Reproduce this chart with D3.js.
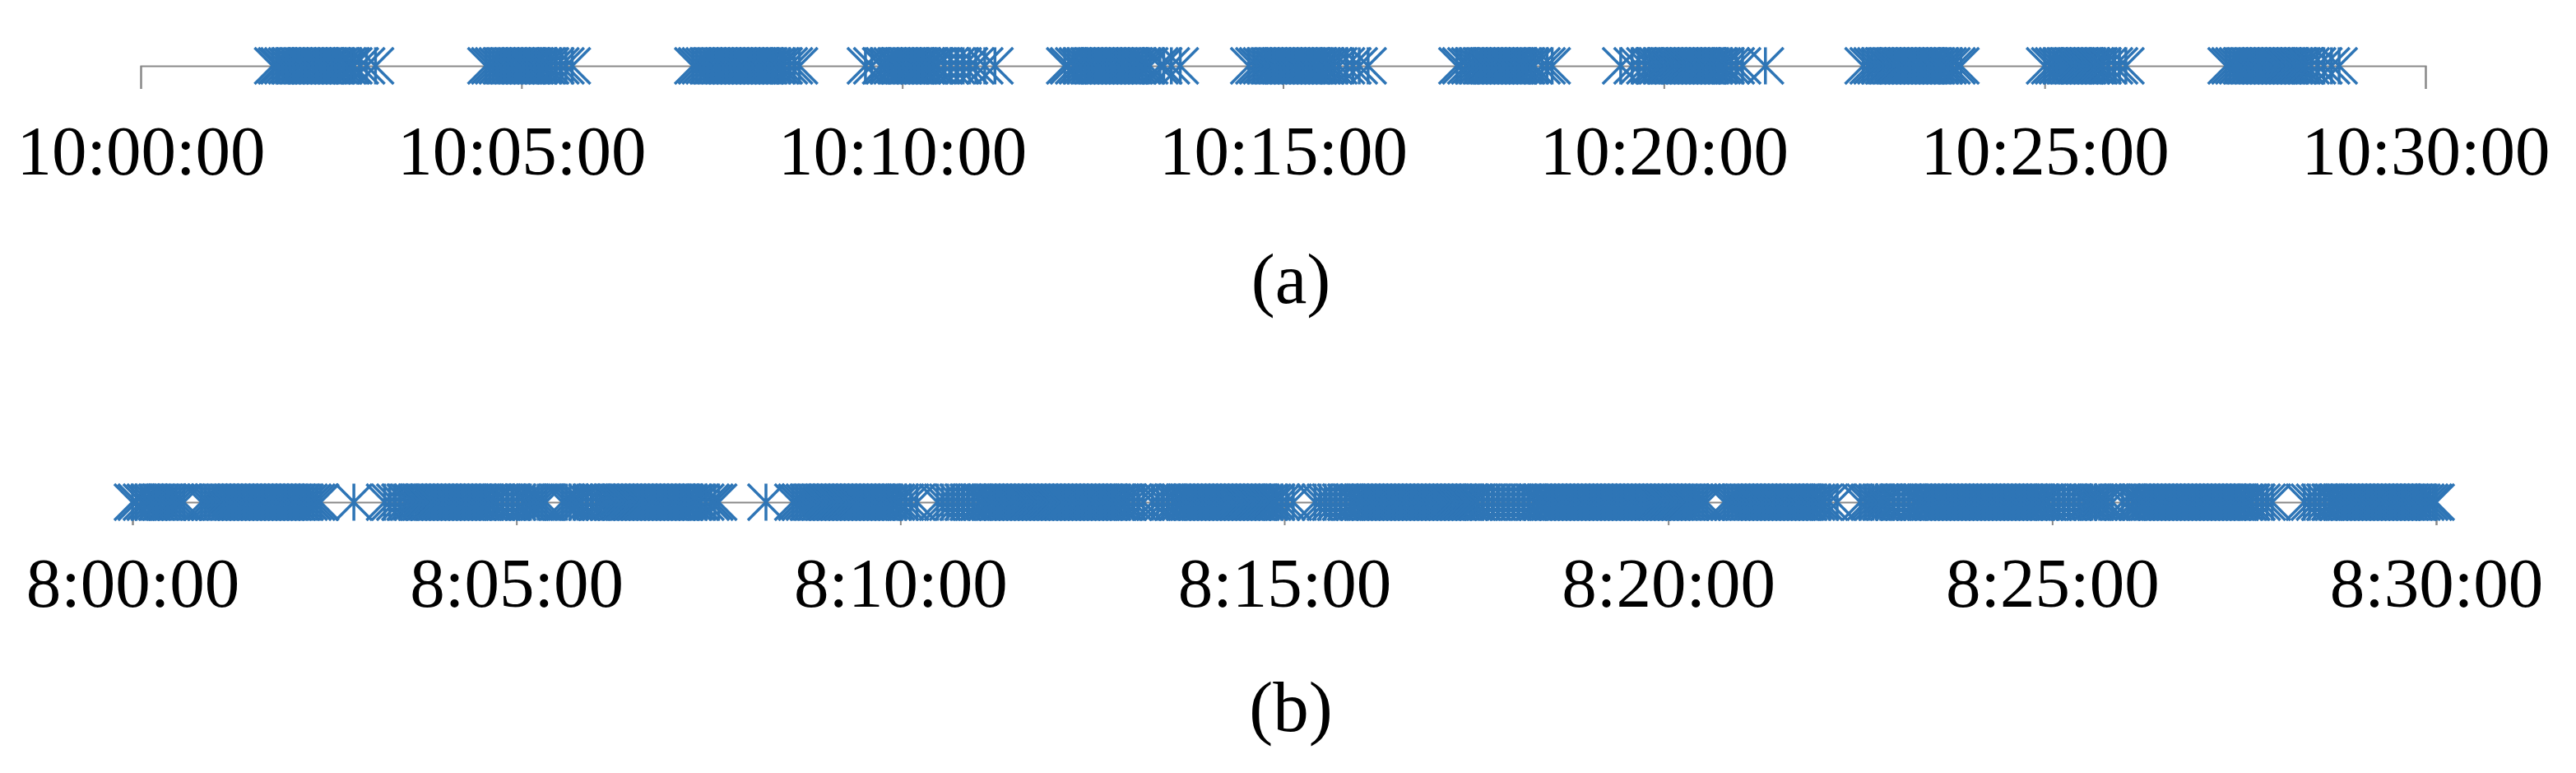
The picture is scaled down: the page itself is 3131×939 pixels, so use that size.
<!DOCTYPE html>
<html><head><meta charset="utf-8">
<script src="https://cdn.jsdelivr.net/npm/d3@7"></script>
<style>html,body{margin:0;padding:0;background:#fff;} svg{display:block}</style>
</head><body>
<svg id="c" width="3131" height="939"></svg>
<script>
// ---- data ----
const startA = "10:00:00";
const startB = "8:00:00";
const tickMinutes = [0, 5, 10, 15, 20, 25, 30];
const captions = ["(a)", "(b)"];
// event times, seconds after the start of each window
const timesA = [
  104,107,109,112,115,118,121,124,127,130,133,136,139,142,145,148,151,154,157,160,163,166,168,173,178,185,
  272,275,278,281,284,287,290,293,296,299,302,305,308,311,314,317,320,323,327,331,335,340,
  435,438,441,444,447,450,453,456,459,462,465,468,471,474,477,480,483,486,489,492,495,498,501,504,507,511,515,519,
  571,576,583,586,589,592,595,598,601,604,607,610,613,616,619,622,625,628,633,638,643,648,653,658,665,673,
  728,731,735,738,741,744,747,750,753,756,759,762,765,768,771,774,777,780,783,786,789,792,795,803,806,812,819,
  873,877,880,883,886,889,892,895,898,901,904,907,910,913,916,919,922,925,928,931,934,937,940,944,950,955,960,967,
  1037,1040,1044,1047,1050,1053,1056,1059,1062,1065,1068,1071,1074,1077,1080,1083,1086,1089,1092,1095,1098,1104,1108,1112,
  1166,1175,1180,1185,1189,1192,1195,1198,1201,1204,1207,1210,1213,1216,1219,1222,1225,1228,1231,1234,1237,1240,1243,1246,1249,1253,1257,1262,1280,
  1357,1361,1364,1367,1370,1373,1376,1379,1382,1385,1388,1391,1394,1397,1400,1403,1406,1409,1412,1415,1418,1421,1424,1427,1431,1434,
  1500,1504,1507,1510,1513,1516,1519,1522,1525,1528,1531,1534,1537,1540,1543,1546,1550,1555,1559,1564,
  1643,1646,1649,1652,1655,1658,1661,1664,1667,1670,1673,1676,1679,1682,1685,1688,1691,1694,1697,1700,1703,1706,1710,1715,1720,1726,1732
];
const timesB = [
  0,3,7,10,13,16,19,22,25,28,31,34,37,40,
  54,57,60,63,66,69,72,75,78,81,84,87,90,93,96,99,102,105,108,111,114,117,120,123,126,129,132,135,138,141,144,147,
  173,197,201,205,209,213,
  216,219,222,225,228,231,234,237,240,243,246,249,252,255,258,261,264,267,270,273,276,279,282,285,289,293,297,301,305,308,311,314,317,320,323,
  336,339,342,345,348,351,355,359,363,366,369,372,375,378,381,384,387,390,393,396,399,402,405,408,411,414,417,420,423,426,429,432,435,438,441,444,448,452,455,458,
  495,
  516,519,522,525,528,531,534,537,540,543,546,549,552,555,558,561,564,567,570,573,576,579,582,585,588,591,594,597,600,604,608,613,
  629,633,637,641,645,649,653,657,661,664,
  667,670,673,676,679,682,685,688,691,694,697,700,703,706,709,712,715,718,721,724,727,730,733,736,739,742,745,748,751,754,757,760,763,766,769,772,775,778,782,786,790,797,801,805,809,813,
  816,819,822,825,828,831,834,837,840,843,846,849,852,855,858,861,864,867,870,873,876,879,882,885,888,891,894,898,902,907,
  924,928,932,936,940,944,948,952,955,
  958,961,964,967,970,973,976,979,982,985,988,991,994,997,1000,1003,1006,1009,1012,1015,1018,1021,1024,1027,1030,1033,1036,1039,1042,1045,1048,1051,
  1055,1059,1063,1067,1071,1075,1079,1083,1087,1091,1095,1098,1101,1104,1107,1110,1113,1116,1119,1122,1125,1128,1131,1134,1137,1140,1143,1146,1149,1152,1155,1158,1161,1164,1167,1170,1173,1176,1179,1182,1185,1188,1191,1194,1197,1200,1203,1206,1209,1212,1215,1218,1221,1224,1227,1230,
  1244,1247,1250,1253,1256,1259,1262,1265,1268,1271,1274,1277,1280,1283,1286,1289,1292,1295,1298,1301,1304,1307,1310,1313,1316,1319,1322,1326,1332,
  1350,1354,1357,1360,1363,1366,1369,1372,1376,1380,1384,1388,1392,1395,1398,1401,1404,1407,1410,1413,1416,1419,1422,1425,1428,1431,1434,1437,1440,1443,1446,1449,1452,1455,1458,1461,1464,1467,1470,1473,1476,1479,1482,1485,1488,1491,1494,1497,1501,1505,1509,1513,1517,1521,1525,1528,1531,1534,1537,1540,1543,1547,1555,1559,1563,
  1566,1569,1572,1575,1578,1581,1584,1587,1590,1593,1596,1599,1602,1605,1608,1611,1614,1617,1620,1623,1626,1629,1632,1635,1638,1641,1644,1647,1650,1653,1656,1660,1664,1668,1672,
  1697,1701,1705,1709,1713,1717,1720,1723,
  1726,1729,1732,1735,1738,1741,1744,1747,1750,1753,1756,1759,1762,1765,1768,1771,1774,1777,1780,1783,1786,1789,1792,1795,1798,1800
];

// ---- drawing ----
const W = 3131, H = 939;
const svg = d3.select("#c");
svg.append("rect").attr("width", W).attr("height", H).attr("fill", "#fff");
const parse = d3.timeParse("%H:%M:%S");
const FONT = "'Liberation Serif','Times New Roman',serif";
const BLUE = "#2E75B6", GREY = "#898989";
const star = "M-22,-22L22,22M-22,22L22,-22M0,-22.5V22.5";

function panel(cfg) {
  const t0 = parse(cfg.start);
  const t1 = d3.timeMinute.offset(t0, 30);
  const x = d3.scaleTime().domain([t0, t1]).range([cfg.x0, cfg.x1]);
  const g = svg.append("g").attr("transform", `translate(0,${cfg.y})`);
  const axis = d3.axisBottom(x)
    .tickValues(tickMinutes.map(m => d3.timeMinute.offset(t0, m)))
    .tickFormat(d3.timeFormat(cfg.fmt))
    .tickSizeInner(28).tickSizeOuter(28);
  const ag = g.append("g").call(axis);
  ag.attr("font-family", null).attr("font-size", null);
  ag.select(".domain").attr("stroke", GREY).attr("stroke-width", 2);
  ag.selectAll(".tick line").attr("stroke", GREY).attr("stroke-width", 2);
  ag.selectAll(".tick text")
    .attr("dy", null).attr("y", cfg.labelDy)
    .attr("font-family", FONT).attr("font-size", 85).attr("fill", "#000");
  g.append("g").selectAll("path").data(cfg.times).join("path")
    .attr("transform", d => `translate(${x(d3.timeSecond.offset(t0, d))},0)`)
    .attr("d", star).attr("fill", "none")
    .attr("stroke", BLUE).attr("stroke-width", 3.5);
  svg.append("text")
    .attr("x", 1569).attr("y", cfg.captionY)
    .attr("text-anchor", "middle")
    .attr("font-family", FONT).attr("font-size", 87).attr("fill", "#000")
    .text(cfg.caption);
}

panel({start: startA, fmt: "%H:%M:%S", x0: 171, x1: 2948, y: 80, labelDy: 132, times: timesA, caption: captions[0], captionY: 368});
panel({start: startB, fmt: "%-H:%M:%S", x0: 161, x1: 2961, y: 610, labelDy: 127, times: timesB, caption: captions[1], captionY: 888});
</script>
</body></html>
